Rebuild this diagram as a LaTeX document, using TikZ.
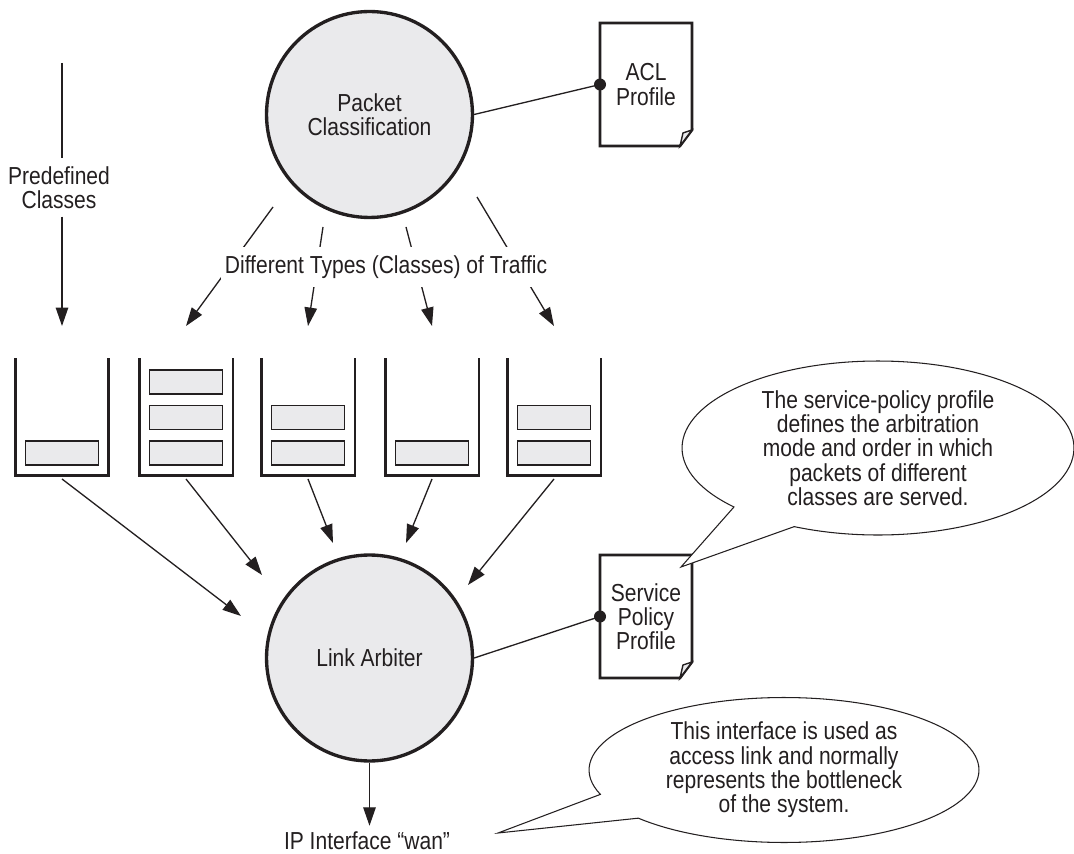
\documentclass[tikz,border=0pt]{standalone}
\usepackage{fontspec}
\setmainfont{Liberation Sans}[FakeStretch = 0.855]
\usetikzlibrary{arrows.meta, shapes.callouts}
\definecolor{ink}{RGB}{35, 31, 32}
\definecolor{papergray}{RGB}{234, 234, 236}
\tikzset{
	qos diagram/.cd,
	flow/.style = {
		draw = ink,
		line width = 0.75pt,
		-{Triangle[length = 0.37cm, width = 0.25cm]}
	},
	link/.style = {
		draw = ink,
		line width = 0.75pt
	},
	stage/.style = {
		circle,
		draw = ink,
		line width = 1.9pt,
		fill = papergray,
		minimum size = 4.12cm,
		align = center
	},
	profile/.style = {
		rectangle,
		minimum width = 1.84cm,
		minimum height = 2.46cm,
		inner sep = 0pt,
		outer sep = 0pt,
		align = center
	},
	sheet/.style = {
		draw = ink,
		line width = 1.5pt,
		line join = miter
	},
	note/.style = {
		ellipse callout,
		draw = ink,
		fill = white,
		line width = 0.6pt,
		inner sep = 0pt,
		align = center,
		callout pointer arc = 22
	},
}

\begin{document}
\begin{tikzpicture}[
		x = 0.02cm, y = -0.02cm,
		font = \fontsize{14pt}{13.8pt}\selectfont,
		text = ink,
		queue/.style = {
			rectangle,
			minimum width = 1.88cm,
			minimum height = 2.36cm,
			inner sep = 0pt,
			outer sep = 0pt
		},
		bin/.style = {
			draw = ink,
			line width = 1.7pt
		},
		packet/.style = {
			draw = ink,
			line width = 1.1pt,
			fill = papergray,
			minimum width = 1.46cm,
			minimum height = 0.48cm,
			inner sep = 0pt
		}]
		\useasboundingbox (0, 0) rectangle (1074, 854);
		\node[qos diagram/stage] (classify) at (369.5, 114.5) {Packet\\Classification};
		\node[qos diagram/stage] (arbiter) at (369.5, 658) {Link Arbiter};
		\node[qos diagram/profile] (acl) at (646, 84.5) {ACL\\Profile};
		\node[qos diagram/profile] (policy) at (646, 616.5) {Service\\Policy\\Profile};
		\foreach \doc in {acl, policy} {
			\draw[qos diagram/sheet] (\doc.north west) -- (\doc.north east) -- ([yshift = 0.32cm]\doc.south east) -- ([xshift = -0.24cm]\doc.south east) -- (\doc.south west) -- cycle;
			\filldraw[qos diagram/sheet, line width = 0.8pt, fill = papergray] ([xshift = -0.24cm]\doc.south east) -- ([xshift = -0.18cm, yshift = 0.26cm]\doc.south east) -- ([yshift = 0.32cm]\doc.south east) -- cycle;
		}
		\draw[qos diagram/link] (classify.east) -- (acl.west);
		\fill[ink] (acl.west) circle (0.12cm);
		\draw[qos diagram/link] (arbiter.east) -- (policy.west);
		\fill[ink] (policy.west) circle (0.12cm);
		\foreach \x/\n [count = \i] in {62/1, 186/3, 308/2, 432/1, 554/2} {
			\node[queue] (q\i) at (\x, 417) {};
			\draw[bin] (q\i.north west) -- (q\i.south west) -- (q\i.south east) -- (q\i.north east);
			\foreach \k in {1, ..., \n}
				\node[packet] at ([yshift = {(0.46 + (\k - 1) * 0.71) * 1cm}]q\i.south) {};
			\coordinate (in\i) at ([yshift = 0.64cm]q\i.north);
			\coordinate (out\i) at ([yshift = -0.06cm]q\i.south);
		}
		\coordinate (predef top) at (62, 63);
		\node[align = center, inner sep = 0.15cm] (predef) at (59, 187.5) {Predefined\\Classes};
		\draw[qos diagram/link] (predef top) -- (predef top |- predef.north);
		\draw[qos diagram/flow] (predef top |- predef.south) -- (in1);
		\coordinate (t1) at (273, 207);
		\coordinate (t2) at (323, 227);
		\coordinate (t3) at (406, 227);
		\coordinate (t4) at (477, 197);
		\foreach \i [evaluate = \i as \j using int(\i + 1)] in {1, ..., 4}
			\draw[qos diagram/flow] (t\i) -- (in\j);
		\node[fill = white, inner xsep = 0.08cm, inner ysep = 0.18cm] (traffic) at (386, 267) {Different Types (Classes) of Traffic};
		\coordinate (a1) at (241, 616);
		\coordinate (a2) at (262, 575);
		\coordinate (a3) at (333, 543);
		\coordinate (a4) at (406, 543);
		\coordinate (a5) at (468, 585);
		\foreach \i in {1, ..., 5}
			\draw[qos diagram/flow] (out\i) -- (a\i);
		\node (wan) at (367, 841) {IP Interface “wan”};
		\draw[qos diagram/flow] (arbiter.south) -- (arbiter.south |- wan.north);
		\coordinate (policy tip) at (681, 567);
		\coordinate (wan tip) at (498, 833);
		\node[qos diagram/note, minimum width = 7.84cm, minimum height = 3.48cm, callout absolute pointer = {(policy tip)}] (policy note) at (878, 448) {The service-policy profile\\defines the arbitration\\mode and order in which\\packets of different\\classes are served.};
		\node[qos diagram/note, minimum width = 7.8cm, minimum height = 2.9cm, callout absolute pointer = {(wan tip)}] (wan note) at (784, 770) {This interface is used as\\access link and normally\\represents the bottleneck\\of the system.};
	\end{tikzpicture}
\end{document}
